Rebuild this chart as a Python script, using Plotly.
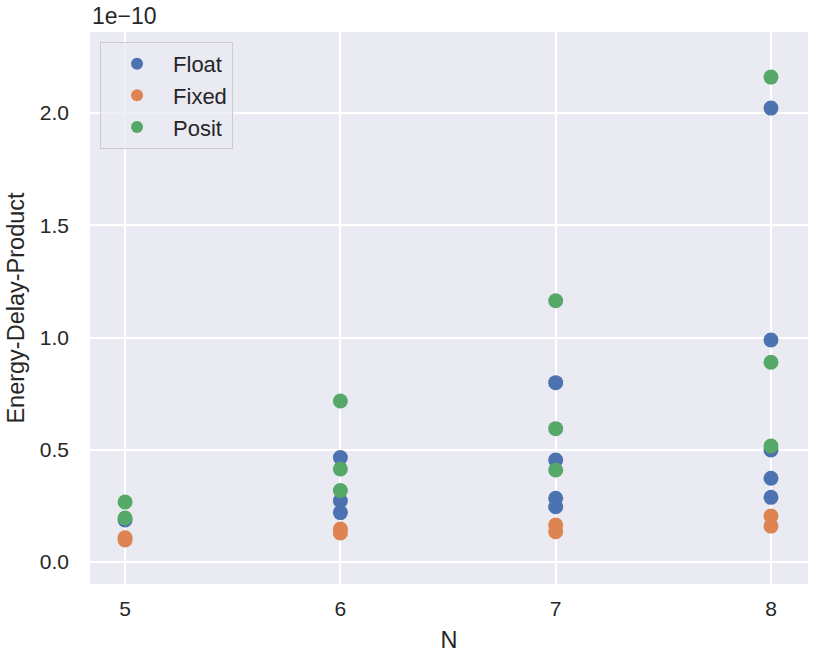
import plotly.graph_objects as go

# Values in units of 1e-10
float_n = [5, 6, 6, 6, 7, 7, 7, 7, 8, 8, 8, 8, 8]
float_edp = [0.187, 0.465, 0.273, 0.220, 0.799, 0.454, 0.284, 0.246, 2.022, 0.989, 0.499, 0.373, 0.288]

fixed_n = [5, 5, 6, 6, 7, 7, 8, 8]
fixed_edp = [0.108, 0.098, 0.147, 0.129, 0.165, 0.135, 0.205, 0.160]

posit_n = [5, 5, 6, 6, 6, 7, 7, 7, 8, 8, 8]
posit_edp = [0.267, 0.196, 0.717, 0.414, 0.318, 1.164, 0.594, 0.410, 2.160, 0.890, 0.517]

y_ticks = [0.0, 0.5, 1.0, 1.5, 2.0]
x_ticks = [5, 6, 7, 8]

FONT = "Liberation Sans, Arial, sans-serif"
TEXT = "#262626"

fig = go.Figure()
for name, xs, ys, col in [
    ("Float", float_n, float_edp, "#4C72B0"),
    ("Fixed", fixed_n, fixed_edp, "#DD8452"),
    ("Posit", posit_n, posit_edp, "#55A868"),
]:
    fig.add_trace(go.Scatter(x=xs, y=ys, mode="markers", name=name,
                             marker=dict(color=col, size=15, line=dict(width=0))))

fig.update_layout(
    width=819, height=658,
    margin=dict(l=90, r=11, t=32, b=74),
    paper_bgcolor="white",
    plot_bgcolor="#EAEAF2",
    font=dict(family=FONT, size=21, color=TEXT),
    showlegend=True,
    legend=dict(x=0.014, y=0.982, xanchor="left", yanchor="top",
                bgcolor="rgba(234,234,242,0.8)", bordercolor="#CCCCCC", borderwidth=1,
                font=dict(size=22, color=TEXT), itemsizing="constant", itemwidth=62),
    xaxis=dict(range=[4.837, 8.172], tickvals=x_ticks, ticktext=[str(v) for v in x_ticks],
               showgrid=True, gridcolor="white", gridwidth=1.6, zeroline=False,
               showline=False, ticks="", tickfont=dict(size=21), ticklabelstandoff=10,
               title=dict(text="N", font=dict(size=23.5), standoff=12)),
    yaxis=dict(range=[-0.098, 2.361], tickvals=y_ticks, ticktext=[f"{v:.1f}" for v in y_ticks],
               showgrid=True, gridcolor="white", gridwidth=1.6, zeroline=False,
               showline=False, ticks="", tickfont=dict(size=21), ticklabelstandoff=20,
               title=dict(text="Energy-Delay-Product", font=dict(size=23.5), standoff=8)),
    annotations=[dict(text="1e\u221210", xref="paper", yref="paper", x=0, y=1,
                      xanchor="left", yanchor="bottom", showarrow=False,
                      font=dict(family=FONT, size=23, color=TEXT), yshift=1)],
)

fig.write_html("out.html")
